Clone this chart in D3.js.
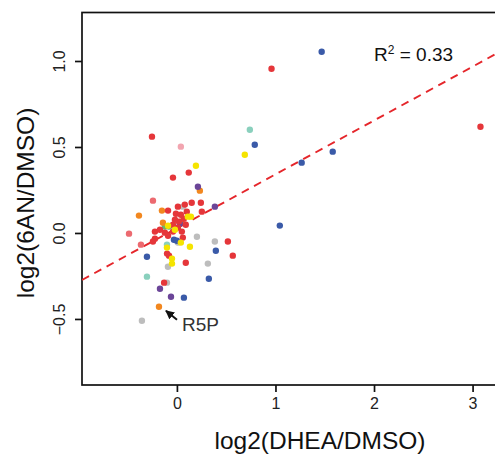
<!DOCTYPE html>
<meta charset="utf-8">
<html>
<head>
<script src="https://d3js.org/d3.v7.min.js"></script>
<style>
  body { margin: 0; background: #fff; }
  svg { font-family: "Liberation Sans", Arial, sans-serif; display: block; }
</style>
</head>
<body>
<div id="chart"></div>
<script>
// points, [log2(DHEA/DMSO), log2(6AN/DMSO)], one array per colour
var red = [[0.96, 0.955], [3.08, 0.618], [-0.253, 0.56], [0.12, 0.351], [-0.04, 0.322],
  [-0.09, 0.13], [0.01, 0.153], [0.08, 0.165], [0.15, 0.176], [0.243, 0.176], [0.253, 0.124],
  [0.10, 0.124], [-0.01, 0.112], [0.04, 0.106], [0.07, 0.083], [-0.02, 0.077], [0.02, 0.066],
  [0.09, 0.048], [-0.04, 0.048], [0.01, 0.031], [-0.223, 0.008], [-0.172, 0.019], [-0.122, 0.002],
  [-0.04, 0.008], [0.05, 0.008], [-0.09, -0.016], [0.06, -0.027], [0.517, -0.05], [-0.223, -0.033],
  [-0.243, -0.05], [0.567, -0.132], [-0.10, -0.12], [-0.08, -0.132], [0.09, -0.173], [-0.13, -0.289]];
var coral = [[-0.243, 0.188], [-0.486, -0.004], [-0.365, -0.068]];
var pink = [[0.04, 0.502]];
var orange = [[0.233, 0.246], [-0.385, 0.101], [-0.152, 0.13], [-0.142, 0.06], [0.04, 0.066], [-0.182, -0.429]];
var yellow = [[0.689, 0.455], [0.193, 0.391], [0.111, 0.095], [0.142, 0.095], [-0.09, 0.042],
  [-0.02, 0.019], [0.04, -0.056], [-0.101, -0.085], [0.132, -0.08], [-0.05, -0.149], [-0.05, -0.178]];
var purple = [[0.213, 0.269], [0.385, 0.153], [0.03, 0.054], [-0.172, -0.324], [-0.06, -0.371]];
var green = [[-0.122, 0.037], [-0.081, 0.037]];
var teal = [[0.74, 0.60], [-0.101, -0.068], [-0.304, -0.254]];
var blue = [[1.469, 1.054], [0.79, 0.513], [1.581, 0.473], [1.266, 0.409], [1.044, 0.043],
  [-0.03, -0.039], [0, -0.045], [0.395, -0.103], [-0.304, -0.138], [0.324, -0.266], [0.071, -0.376]];
var gray = [[0.061, 0.153], [0.01, -0.056], [0.203, -0.022], [0.385, -0.05], [-0.091, -0.196],
  [0.314, -0.178], [-0.101, -0.289], [-0.355, -0.51]];

var xTicks = [0, 1, 2, 3];
var yTicks = [-0.5, 0, 0.5, 1.0];
var fit = { intercept: 0.028, slope: 0.313 };  // dashed regression line
var r2Label = "0.33";
var labelPoint = [-0.182, -0.429];  // R5P

var groups = [
  { pts: gray, color: "#bdbdbd" },
  { pts: teal, color: "#8ad0bd" },
  { pts: green, color: "#6ab56a" },
  { pts: pink, color: "#f2a5b0" },
  { pts: coral, color: "#ec6a70" },
  { pts: orange, color: "#f2871f" },
  { pts: purple, color: "#6b4598" },
  { pts: blue, color: "#3a5aa8" },
  { pts: red, color: "#e5363a" },
  { pts: yellow, color: "#f5e400" }
];

var width = 495, height = 457;
var margin = { top: 12.5, left: 82, bottom: 72 };
var plotRight = 512;

var x = d3.scaleLinear().domain([-0.963, 3.4]).range([margin.left, plotRight]);
var y = d3.scaleLinear().domain([-0.884, 1.282]).range([height - margin.bottom, margin.top]);

var svg = d3.select("#chart").append("svg")
  .attr("width", width)
  .attr("height", height);

svg.append("defs").append("clipPath").attr("id", "clip")
  .append("rect")
  .attr("x", margin.left).attr("y", margin.top)
  .attr("width", plotRight - margin.left)
  .attr("height", height - margin.bottom - margin.top);

// frame (right side falls off the picture)
svg.append("rect")
  .attr("x", margin.left).attr("y", margin.top)
  .attr("width", plotRight - margin.left)
  .attr("height", height - margin.bottom - margin.top)
  .attr("fill", "none").attr("stroke", "#111").attr("stroke-width", 1.7);

// x axis
var xAxis = svg.append("g")
  .attr("transform", `translate(0,${height - margin.bottom})`)
  .call(d3.axisBottom(x).tickValues(xTicks).tickSize(7).tickPadding(6).tickFormat(d3.format("d")));
xAxis.select(".domain").remove();
xAxis.selectAll(".tick line").attr("stroke", "#111").attr("stroke-width", 1.7);
xAxis.selectAll(".tick text").attr("font-size", 16).attr("fill", "#222")
  .attr("font-family", "Liberation Sans, Arial, sans-serif");

// y axis, labels turned like R does
var yAxis = svg.append("g")
  .attr("transform", `translate(${margin.left},0)`)
  .call(d3.axisLeft(y).tickValues(yTicks).tickSize(7).tickFormat(d3.format(".1f")));
yAxis.select(".domain").remove();
yAxis.selectAll(".tick line").attr("stroke", "#111").attr("stroke-width", 1.7);
yAxis.selectAll(".tick text")
  .attr("font-size", 16).attr("fill", "#222")
  .attr("font-family", "Liberation Sans, Arial, sans-serif")
  .attr("x", null).attr("dy", null)
  .attr("text-anchor", "middle")
  .attr("transform", "translate(-17,0) rotate(-90)");

var plot = svg.append("g").attr("clip-path", "url(#clip)");

// fitted line
var xd = x.domain();
plot.append("line")
  .attr("x1", x(xd[0])).attr("y1", y(fit.intercept + fit.slope * xd[0]))
  .attr("x2", x(xd[1])).attr("y2", y(fit.intercept + fit.slope * xd[1]))
  .attr("stroke", "#e5262b").attr("stroke-width", 1.9)
  .attr("stroke-dasharray", "8,6");

groups.forEach(function(g) {
  plot.append("g").selectAll("circle")
    .data(g.pts)
    .join("circle")
    .attr("cx", d => x(d[0]))
    .attr("cy", d => y(d[1]))
    .attr("r", 3.2)
    .attr("fill", g.color);
});

// R squared
var r2 = svg.append("text")
  .attr("x", 374).attr("y", 61)
  .attr("font-size", 19).attr("fill", "#111");
r2.append("tspan").text("R");
r2.append("tspan").attr("font-size", 12).attr("dy", -7).text("2");
r2.append("tspan").attr("dy", 7).text(" = " + r2Label);

// R5P arrow + label
var ax = x(labelPoint[0]), ay = y(labelPoint[1]);
svg.append("defs").append("marker")
  .attr("id", "head").attr("viewBox", "0 0 10 10")
  .attr("refX", 9).attr("refY", 5)
  .attr("markerWidth", 4.5).attr("markerHeight", 4.5)
  .attr("orient", "auto")
  .append("path").attr("d", "M0,0L10,5L0,10z").attr("fill", "#111");
svg.append("line")
  .attr("x1", ax + 18).attr("y1", ay + 13)
  .attr("x2", ax + 7).attr("y2", ay + 4)
  .attr("stroke", "#111").attr("stroke-width", 2)
  .attr("marker-end", "url(#head)");
svg.append("text")
  .attr("x", ax + 23).attr("y", ay + 24.5)
  .attr("font-size", 19).attr("fill", "#333")
  .text("R5P");

// axis titles
svg.append("text")
  .attr("x", 320).attr("y", 449)
  .attr("text-anchor", "middle")
  .attr("font-size", 24.5).attr("fill", "#111")
  .text("log2(DHEA/DMSO)");
svg.append("text")
  .attr("transform", "translate(33.5,203) rotate(-90)")
  .attr("text-anchor", "middle")
  .attr("font-size", 24.5).attr("fill", "#111")
  .text("log2(6AN/DMSO)");
</script>
</body>
</html>
